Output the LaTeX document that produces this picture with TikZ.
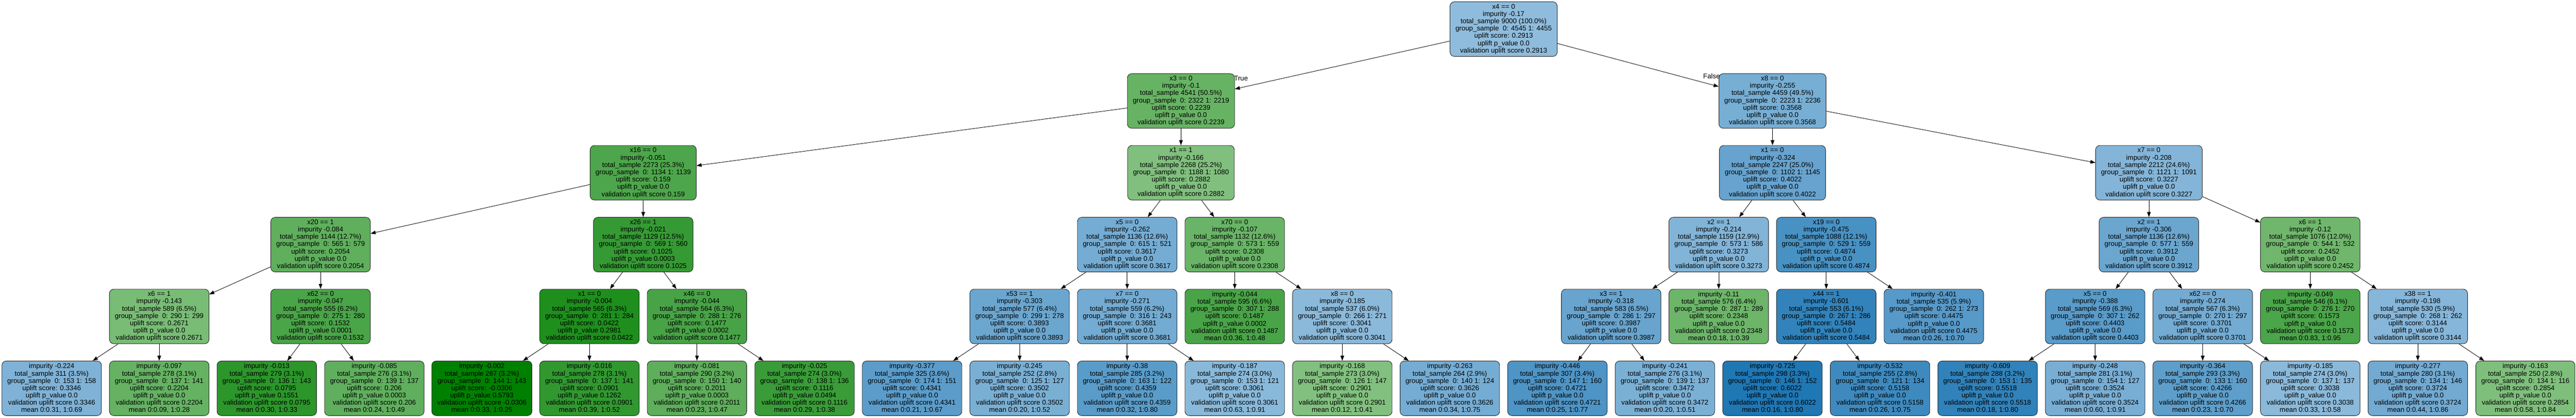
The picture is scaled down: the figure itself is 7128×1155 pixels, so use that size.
\documentclass[tikz,border=0pt]{standalone}
\usepackage{fontspec}
\setmainfont{Liberation Sans}
\usetikzlibrary{arrows.meta}
\definecolor{lg}{RGB}{130,192,127}
\definecolor{dg}{RGB}{0,128,0}
\definecolor{lb}{RGB}{143,188,220}
\definecolor{db}{RGB}{31,119,180}
\newcommand\SplitN[9]{\node[nb,fill=#3] (#1) at (#2) {#4\\impurity #5\\total\_sample #6\\group\_sample~~0: #7\\uplift score: #8\\uplift p\_value #9\\validation uplift score #8};}
\newcommand\LeafN[9]{\node[nb,fill=#3] (#1) at (#2) {impurity #4\\total\_sample #5\\group\_sample~~0: #6\\uplift score: #7\\uplift p\_value #8\\validation uplift score #7\\mean #9};}
\begin{document}
\begin{tikzpicture}[x=1pt,y=1pt,
  nb/.style={draw=black!85, line width=1.3pt, rounded corners=12pt, align=center,
    inner xsep=15pt, inner ysep=0pt, minimum height=151pt,
    font=\fontsize{19}{20.2}\selectfont, text=black},
  lbl/.style={inner sep=0pt, font=\fontsize{19}{20.2}\selectfont, text=black},
  conn/.style={draw=black, line width=1.2pt, -{Triangle[length=14pt,width=10pt]}}]
\fill[white] (0,0) rectangle (7128,-1155);
\useasboundingbox (0,0) rectangle (7128,-1155);
% level 0
\SplitN{R}{4160.6,-80.5}{lb}{x4 == 0}{-0.17}{9000 (100.0\%)}{4545 1: 4455}{0.2913}{0.0}
% level 1
\SplitN{A}{3267.8,-279.2}{dg!21!lg}{x3 == 0}{-0.1}{4541 (50.5\%)}{2322 1: 2219}{0.2239}{0.0}
\SplitN{B}{4904.6,-279.2}{db!21!lb}{x8 == 0}{-0.255}{4459 (49.5\%)}{2223 1: 2236}{0.3568}{0.0}
% level 2
\SplitN{C}{1779.8,-477.9}{dg!41!lg}{x16 == 0}{-0.051}{2273 (25.3\%)}{1134 1: 1139}{0.159}{0.0}
\SplitN{D}{3267.8,-477.9}{dg!1!lg}{x1 == 1}{-0.166}{2268 (25.2\%)}{1188 1: 1080}{0.2882}{0.0}
\SplitN{E}{4904.6,-477.9}{db!36!lb}{x1 == 0}{-0.324}{2247 (25.0\%)}{1102 1: 1145}{0.4022}{0.0}
\SplitN{F}{5946.2,-477.9}{db!10!lb}{x7 == 0}{-0.208}{2212 (24.6\%)}{1121 1: 1091}{0.3227}{0.0}
% level 3
\SplitN{G}{887,-676.6}{dg!27!lg}{x20 == 1}{-0.084}{1144 (12.7\%)}{565 1: 579}{0.2054}{0.0}
\SplitN{H}{1779.8,-676.6}{dg!59!lg}{x26 == 1}{-0.021}{1129 (12.5\%)}{569 1: 560}{0.1025}{0.0003}
\SplitN{I}{3119,-676.6}{db!23!lb}{x5 == 0}{-0.262}{1136 (12.6\%)}{615 1: 521}{0.3617}{0.0}
\SplitN{J}{3416.6,-676.6}{dg!19!lg}{x70 == 0}{-0.107}{1132 (12.6\%)}{573 1: 559}{0.2308}{0.0}
\SplitN{K}{4755.8,-676.6}{db!12!lb}{x2 == 1}{-0.214}{1159 (12.9\%)}{573 1: 586}{0.3273}{0.0}
\SplitN{L}{5053.4,-676.6}{db!63!lb}{x19 == 0}{-0.475}{1088 (12.1\%)}{529 1: 559}{0.4874}{0.0}
\SplitN{M}{5946.2,-676.6}{db!32!lb}{x2 == 1}{-0.306}{1136 (12.6\%)}{577 1: 559}{0.3912}{0.0}
\SplitN{N}{6392.6,-676.6}{dg!14!lg}{x6 == 1}{-0.12}{1076 (12.0\%)}{544 1: 532}{0.2452}{0.0}
% level 4
\SplitN{O}{440.6,-875.3}{dg!7!lg}{x6 == 1}{-0.143}{589 (6.5\%)}{290 1: 299}{0.2671}{0.0}
\SplitN{P}{887,-875.3}{dg!43!lg}{x62 == 0}{-0.047}{555 (6.2\%)}{275 1: 280}{0.1532}{0.0001}
\SplitN{Q}{1631,-875.3}{dg!77!lg}{x1 == 0}{-0.004}{565 (6.3\%)}{281 1: 284}{0.0422}{0.2981}
\SplitN{S}{1928.6,-875.3}{dg!45!lg}{x46 == 0}{-0.044}{564 (6.3\%)}{288 1: 276}{0.1477}{0.0002}
\SplitN{T}{2821.4,-875.3}{db!32!lb}{x53 == 1}{-0.303}{577 (6.4\%)}{299 1: 278}{0.3893}{0.0}
\SplitN{U}{3119,-875.3}{db!25!lb}{x7 == 0}{-0.271}{559 (6.2\%)}{316 1: 243}{0.3681}{0.0}
\LeafN{V}{3416.6,-875.3}{dg!44!lg}{-0.044}{595 (6.6\%)}{307 1: 288}{0.1487}{0.0002}{0:0.36, 1:0.48}
\SplitN{W}{3714.2,-875.3}{db!4!lb}{x8 == 0}{-0.185}{537 (6.0\%)}{266 1: 271}{0.3041}{0.0}
\SplitN{X}{4458.2,-875.3}{db!35!lb}{x3 == 1}{-0.318}{583 (6.5\%)}{286 1: 297}{0.3987}{0.0}
\LeafN{Y}{4755.8,-875.3}{dg!17!lg}{-0.11}{576 (6.4\%)}{287 1: 289}{0.2348}{0.0}{0:0.18, 1:0.39}
\SplitN{Z}{5053.4,-875.3}{db!83!lb}{x44 == 1}{-0.601}{553 (6.1\%)}{267 1: 286}{0.5484}{0.0}
\LeafN{AA}{5351,-875.3}{db!50!lb}{-0.401}{535 (5.9\%)}{262 1: 273}{0.4475}{0.0}{0:0.26, 1:0.70}
\SplitN{AB}{5797.4,-875.3}{db!48!lb}{x5 == 0}{-0.388}{569 (6.3\%)}{307 1: 262}{0.4403}{0.0}
\SplitN{AC}{6095,-875.3}{db!25!lb}{x62 == 0}{-0.274}{567 (6.3\%)}{270 1: 297}{0.3701}{0.0}
\LeafN{AD}{6392.6,-875.3}{dg!42!lg}{-0.049}{546 (6.1\%)}{276 1: 270}{0.1573}{0.0}{0:0.83, 1:0.95}
\SplitN{AE}{6690.2,-875.3}{db!8!lb}{x38 == 1}{-0.198}{530 (5.9\%)}{268 1: 262}{0.3144}{0.0}
% level 5
\LeafN{Ol}{143,-1074}{db!14!lb}{-0.224}{311 (3.5\%)}{153 1: 158}{0.3346}{0.0}{0:0.31, 1:0.69}
\LeafN{Or}{440.6,-1074}{dg!22!lg}{-0.097}{278 (3.1\%)}{137 1: 141}{0.2204}{0.0}{0:0.09, 1:0.28}
\LeafN{Pl}{738.2,-1074}{dg!66!lg}{-0.013}{279 (3.1\%)}{136 1: 143}{0.0795}{0.1551}{0:0.30, 1:0.33}
\LeafN{Pr}{1035.8,-1074}{dg!26!lg}{-0.085}{276 (3.1\%)}{139 1: 137}{0.206}{0.0003}{0:0.24, 1:0.49}
\LeafN{Ql}{1333.4,-1074}{dg}{-0.002}{287 (3.2\%)}{144 1: 143}{-0.0306}{0.5793}{0:0.33, 1:0.25}
\LeafN{Qr}{1631,-1074}{dg!62!lg}{-0.016}{278 (3.1\%)}{137 1: 141}{0.0901}{0.1262}{0:0.39, 1:0.52}
\LeafN{Sl}{1928.6,-1074}{dg!28!lg}{-0.081}{290 (3.2\%)}{150 1: 140}{0.2011}{0.0003}{0:0.23, 1:0.47}
\LeafN{Sr}{2226.2,-1074}{dg!56!lg}{-0.025}{274 (3.0\%)}{138 1: 136}{0.1116}{0.0494}{0:0.29, 1:0.38}
\LeafN{Tl}{2523.8,-1074}{db!46!lb}{-0.377}{325 (3.6\%)}{174 1: 151}{0.4341}{0.0}{0:0.21, 1:0.67}
\LeafN{Tr}{2821.4,-1074}{db!19!lb}{-0.245}{252 (2.8\%)}{125 1: 127}{0.3502}{0.0}{0:0.20, 1:0.52}
\LeafN{Ul}{3119,-1074}{db!47!lb}{-0.38}{285 (3.2\%)}{163 1: 122}{0.4359}{0.0}{0:0.32, 1:0.80}
\LeafN{Ur}{3416.6,-1074}{db!5!lb}{-0.187}{274 (3.0\%)}{153 1: 121}{0.3061}{0.0}{0:0.63, 1:0.91}
\LeafN{Wl}{3714.2,-1074}{lg}{-0.168}{273 (3.0\%)}{126 1: 147}{0.2901}{0.0}{0:0.12, 1:0.41}
\LeafN{Wr}{4011.8,-1074}{db!23!lb}{-0.263}{264 (2.9\%)}{140 1: 124}{0.3626}{0.0}{0:0.34, 1:0.75}
\LeafN{Xl}{4309.4,-1074}{db!58!lb}{-0.446}{307 (3.4\%)}{147 1: 160}{0.4721}{0.0}{0:0.25, 1:0.77}
\LeafN{Xr}{4607,-1074}{db!18!lb}{-0.241}{276 (3.1\%)}{139 1: 137}{0.3472}{0.0}{0:0.20, 1:0.51}
\LeafN{Zl}{4904.6,-1074}{db}{-0.725}{298 (3.3\%)}{146 1: 152}{0.6022}{0.0}{0:0.16, 1:0.80}
\LeafN{Zr}{5202.2,-1074}{db!72!lb}{-0.532}{255 (2.8\%)}{121 1: 134}{0.5158}{0.0}{0:0.26, 1:0.75}
\LeafN{ABl}{5499.8,-1074}{db!84!lb}{-0.609}{288 (3.2\%)}{153 1: 135}{0.5518}{0.0}{0:0.18, 1:0.80}
\LeafN{ABr}{5797.4,-1074}{db!20!lb}{-0.248}{281 (3.1\%)}{154 1: 127}{0.3524}{0.0}{0:0.60, 1:0.91}
\LeafN{ACl}{6095,-1074}{db!44!lb}{-0.364}{293 (3.3\%)}{133 1: 160}{0.4266}{0.0}{0:0.23, 1:0.70}
\LeafN{ACr}{6392.6,-1074}{db!4!lb}{-0.185}{274 (3.0\%)}{137 1: 137}{0.3038}{0.0}{0:0.33, 1:0.58}
\LeafN{AEl}{6690.2,-1074}{db!26!lb}{-0.277}{280 (3.1\%)}{134 1: 146}{0.3724}{0.0}{0:0.44, 1:0.86}
\LeafN{AEr}{6987.8,-1074}{dg!2!lg}{-0.163}{250 (2.8\%)}{134 1: 116}{0.2854}{0.0}{0:0.58, 1:0.84}
% edge labels
\node[lbl] (tlab) at (3434,-216) {True};
\node[lbl] (flab) at (4736,-210) {False};
% connectors
\foreach \a/\b in {R/A, R/B, A/C, A/D, B/E, B/F, C/G, C/H, D/I, D/J, E/K, E/L, F/M, F/N,
  G/O, G/P, H/Q, H/S, I/T, I/U, J/V, J/W, K/X, K/Y, L/Z, L/AA, M/AB, M/AC, N/AD, N/AE,
  O/Ol, O/Or, P/Pl, P/Pr, Q/Ql, Q/Qr, S/Sl, S/Sr, T/Tl, T/Tr, U/Ul, U/Ur, W/Wl, W/Wr,
  X/Xl, X/Xr, Z/Zl, Z/Zr, AB/ABl, AB/ABr, AC/ACl, AC/ACr, AE/AEl, AE/AEr}
  \draw[conn] (\a) -- (\b);
\end{tikzpicture}
\end{document}
